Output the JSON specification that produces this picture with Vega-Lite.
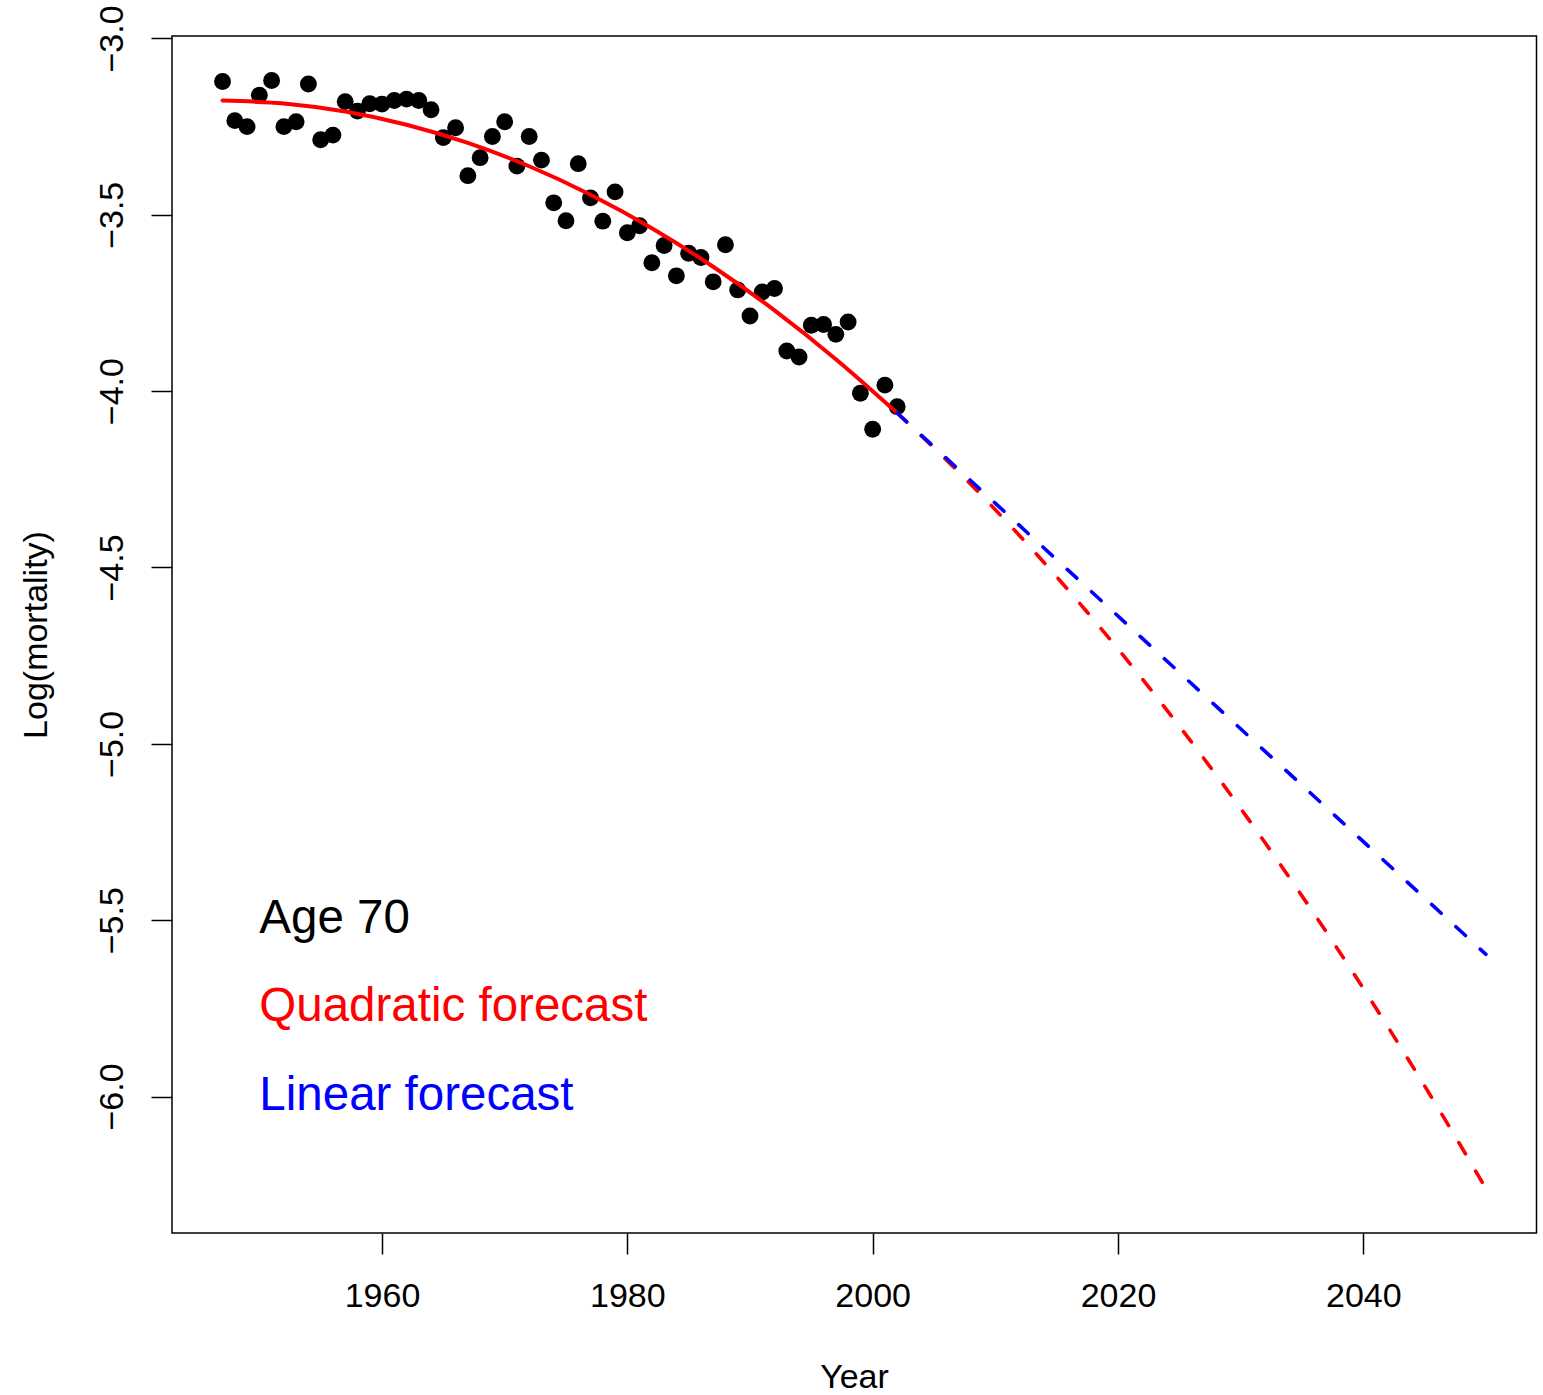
{
  "$schema": "https://vega.github.io/schema/vega-lite/v6.json",
  "width": 1364.5,
  "height": 1197,
  "autosize": {"type": "none"},
  "padding": {"left": 172, "top": 36, "right": 6.5, "bottom": 162},
  "background": "white",
  "config": {
    "font": "Liberation Sans",
    "view": {"stroke": "black", "strokeWidth": 1.5}
  },
  "datasets": {
    "obs": [
      {"year": 1947, "value": -3.122}, {"year": 1948, "value": -3.233}, {"year": 1949, "value": -3.250},
      {"year": 1950, "value": -3.161}, {"year": 1951, "value": -3.119}, {"year": 1952, "value": -3.250},
      {"year": 1953, "value": -3.236}, {"year": 1954, "value": -3.129}, {"year": 1955, "value": -3.287},
      {"year": 1956, "value": -3.274}, {"year": 1957, "value": -3.179}, {"year": 1958, "value": -3.206},
      {"year": 1959, "value": -3.185}, {"year": 1960, "value": -3.186}, {"year": 1961, "value": -3.176},
      {"year": 1962, "value": -3.172}, {"year": 1963, "value": -3.176}, {"year": 1964, "value": -3.202},
      {"year": 1965, "value": -3.281}, {"year": 1966, "value": -3.253}, {"year": 1967, "value": -3.389},
      {"year": 1968, "value": -3.338}, {"year": 1969, "value": -3.278}, {"year": 1970, "value": -3.236},
      {"year": 1971, "value": -3.362}, {"year": 1972, "value": -3.278}, {"year": 1973, "value": -3.345},
      {"year": 1974, "value": -3.466}, {"year": 1975, "value": -3.517}, {"year": 1976, "value": -3.355},
      {"year": 1977, "value": -3.452}, {"year": 1978, "value": -3.518}, {"year": 1979, "value": -3.435},
      {"year": 1980, "value": -3.551}, {"year": 1981, "value": -3.531}, {"year": 1982, "value": -3.636},
      {"year": 1983, "value": -3.587}, {"year": 1984, "value": -3.673}, {"year": 1985, "value": -3.609},
      {"year": 1986, "value": -3.621}, {"year": 1987, "value": -3.690}, {"year": 1988, "value": -3.585},
      {"year": 1989, "value": -3.713}, {"year": 1990, "value": -3.787}, {"year": 1991, "value": -3.719},
      {"year": 1992, "value": -3.709}, {"year": 1993, "value": -3.886}, {"year": 1994, "value": -3.903},
      {"year": 1995, "value": -3.813}, {"year": 1996, "value": -3.811}, {"year": 1997, "value": -3.839},
      {"year": 1998, "value": -3.804}, {"year": 1999, "value": -4.006}, {"year": 2000, "value": -4.108},
      {"year": 2001, "value": -3.983}, {"year": 2002, "value": -4.044}
    ],
    "quadfit": [
      {"year": 1947, "value": -3.1760}, {"year": 1952, "value": -3.1844}, {"year": 1957, "value": -3.2073},
      {"year": 1962, "value": -3.2446}, {"year": 1967, "value": -3.2963}, {"year": 1972, "value": -3.3624},
      {"year": 1977, "value": -3.4430}, {"year": 1982, "value": -3.5379}, {"year": 1987, "value": -3.6473},
      {"year": 1992, "value": -3.7711}, {"year": 1997, "value": -3.9094}, {"year": 2002, "value": -4.0620}
    ],
    "quadfc": [
      {"year": 2002, "value": -4.0620}, {"year": 2007, "value": -4.2291}, {"year": 2012, "value": -4.4105},
      {"year": 2017, "value": -4.6065}, {"year": 2022, "value": -4.8168}, {"year": 2027, "value": -5.0415},
      {"year": 2032, "value": -5.2807}, {"year": 2037, "value": -5.5343}, {"year": 2042, "value": -5.8023},
      {"year": 2047, "value": -6.0847}, {"year": 2050, "value": -6.2611}
    ],
    "linfc": [
      {"year": 2002, "value": -4.062}, {"year": 2050, "value": -5.597}
    ],
    "notes": [
      {"label": "Age 70", "year": 1950, "value": -5.5},
      {"label": "Quadratic forecast", "year": 1950, "value": -5.75},
      {"label": "Linear forecast", "year": 1950, "value": -6.0}
    ]
  },
  "encoding": {
    "x": {
      "field": "year", "type": "quantitative",
      "scale": {"domain": [1942.88, 2054.12], "nice": false, "zero": false},
      "axis": {
        "values": [1960, 1980, 2000, 2020, 2040],
        "format": "d",
        "grid": false, "domain": false,
        "tickColor": "black", "tickSize": 21, "tickWidth": 1.5,
        "labelFontSize": 34, "labelColor": "black",
        "labelBaseline": "alphabetic", "labelPadding": 52,
        "title": "Year", "titleFontSize": 34, "titleFontWeight": "normal", "titleColor": "black",
        "titleX": 682, "titleY": 154, "titleBaseline": "alphabetic", "titleAlign": "center"
      }
    },
    "y": {
      "field": "value", "type": "quantitative",
      "scale": {"domain": [-6.387, -2.993], "nice": false, "zero": false},
      "axis": {
        "values": [-3, -3.5, -4, -4.5, -5, -5.5, -6],
        "format": ".1f",
        "grid": false, "domain": false,
        "tickColor": "black", "tickSize": 21, "tickWidth": 1.5,
        "labelFontSize": 34, "labelColor": "black",
        "labelAngle": -90, "labelAlign": "center", "labelBaseline": "alphabetic", "labelPadding": 29,
        "title": "Log(mortality)", "titleFontSize": 34, "titleFontWeight": "normal", "titleColor": "black",
        "titleAngle": -90, "titleX": -126, "titleY": 598.5, "titleBaseline": "alphabetic", "titleAlign": "center"
      }
    }
  },
  "layer": [
    {
      "data": {"name": "obs"},
      "mark": {"type": "circle", "size": 285, "color": "black", "opacity": 1}
    },
    {
      "data": {"name": "quadfit"},
      "mark": {"type": "line", "color": "#FF0000", "strokeWidth": 4, "strokeCap": "round", "interpolate": "monotone"}
    },
    {
      "data": {"name": "quadfc"},
      "mark": {"type": "line", "color": "#FF0000", "strokeWidth": 3.6, "strokeDash": [13, 20], "strokeCap": "round", "interpolate": "monotone"}
    },
    {
      "data": {"name": "linfc"},
      "mark": {"type": "line", "color": "#0000FF", "strokeWidth": 3.6, "strokeDash": [13, 20], "strokeCap": "round"}
    },
    {
      "data": {"name": "notes"},
      "mark": {"type": "text", "align": "left", "baseline": "alphabetic", "dy": 13, "fontSize": 47.5},
      "encoding": {
        "text": {"field": "label", "type": "nominal"},
        "color": {
          "field": "label", "type": "nominal",
          "scale": {"domain": ["Age 70", "Quadratic forecast", "Linear forecast"], "range": ["#000000", "#FF0000", "#0000FF"]},
          "legend": null
        }
      }
    }
  ]
}
